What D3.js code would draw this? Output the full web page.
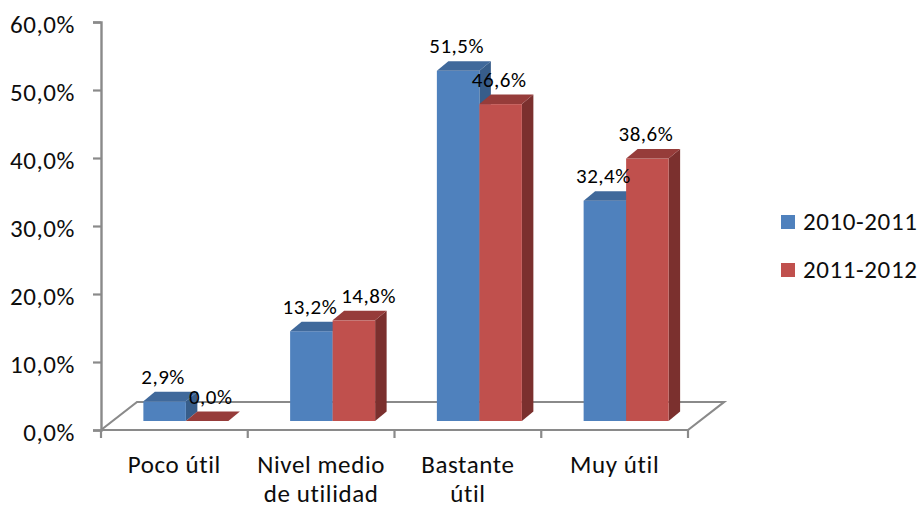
<!DOCTYPE html>
<html>
<head>
<meta charset="utf-8">
<script src="https://cdn.jsdelivr.net/npm/d3@7"></script>
<style>
  html, body { margin: 0; padding: 0; background: #fff; }
  svg { display: block; font-family: Carlito, Calibri, Lato, "Open Sans", sans-serif; }
</style>
</head>
<body>
<svg id="chart" width="922" height="507"></svg>
<script>
// Chart data
const categories = ["Poco útil", "Nivel medio\nde utilidad", "Bastante\nútil", "Muy útil"];
const seriesNames = ["2010-2011", "2011-2012"];
const values2010 = [2.9, 13.2, 51.5, 32.4];
const values2011 = [0.0, 14.8, 46.6, 38.6];
const yTicks = [0, 10, 20, 30, 40, 50, 60];

const seriesValues = [values2010, values2011];
const palette = [
  { front: "#4F81BD", top: "#40699B", side: "#375D8A" },
  { front: "#C0504D", top: "#963C3A", side: "#7B302E" }
];

const locale = d3.formatLocale({ decimal: ",", thousands: ".", grouping: [3], currency: ["", " €"] });
const fmt = v => locale.format(".1f")(v) + "%";

const svg = d3.select("#chart");
const textColor = "#0d0d0d";
const labelSize = 25;
const labelSpacing = 0.6;

// Front plane of the plot (where the axes live)
const x0 = d3.scaleBand().domain(categories).range([101, 688]).paddingInner(0).paddingOuter(0);
const x1 = d3.scaleBand().domain(seriesNames).range([0, x0.bandwidth()]).paddingInner(0).paddingOuter(0.7265);
const y = d3.scaleLinear().domain([0, 60]).range([430, 22]);

// 3D offsets: floor depth, bar row position and bar depth
const floorD = { x: 36, y: -28 };
const rowD = { x: 11.5, y: -9 };
const barD = { x: 11.5, y: -9.5 };

const axisColor = "#8A8A8A";

// Floor outline
const fx0 = x0.range()[0], fx1 = x0.range()[1], fy = y(0);
svg.append("path")
  .attr("d", `M${fx0},${fy} L${fx0 + floorD.x},${fy + floorD.y} L${fx1 + floorD.x},${fy + floorD.y} L${fx1},${fy}`)
  .attr("fill", "none").attr("stroke", axisColor).attr("stroke-width", 2.2);

// Value axis
const yAxis = svg.append("g").attr("transform", `translate(${fx0},0)`)
  .call(d3.axisLeft(y).tickValues(yTicks).tickSize(8).tickFormat(d => fmt(d)));
yAxis.attr("font-family", null).attr("font-size", null);
yAxis.select(".domain").attr("stroke", axisColor).attr("stroke-width", 2.4);
yAxis.selectAll(".tick line").attr("stroke", axisColor).attr("stroke-width", 2.2);
yAxis.selectAll(".tick text")
  .attr("x", -26).attr("dy", null).attr("y", 10)
  .attr("font-size", labelSize).attr("letter-spacing", labelSpacing).attr("fill", textColor);

// Category axis
const xAxis = svg.append("g").attr("transform", `translate(0,${fy})`);
xAxis.append("line").attr("x1", fx0).attr("x2", fx1).attr("y1", 0).attr("y2", 0)
  .attr("stroke", axisColor).attr("stroke-width", 2.2);
const boundaries = categories.map(c => x0(c)).concat([fx1]);
xAxis.selectAll("line.tick").data(boundaries).join("line")
  .attr("class", "tick")
  .attr("x1", d => d).attr("x2", d => d).attr("y1", 0).attr("y2", 8)
  .attr("stroke", axisColor).attr("stroke-width", 2.2);
categories.forEach(c => {
  const t = xAxis.append("text")
    .attr("text-anchor", "middle").attr("font-size", labelSize)
    .attr("letter-spacing", labelSpacing).attr("fill", textColor);
  c.split("\n").forEach((line, i) => {
    t.append("tspan").attr("x", x0(c) + x0.bandwidth() / 2).attr("y", 43 + i * 28.5).text(line);
  });
});

// 3D bars
const bars = [];
categories.forEach((c, ci) => {
  seriesNames.forEach((s, si) => {
    const v = seriesValues[si][ci];
    const left = x0(c) + x1(s) + rowD.x;
    const right = left + x1.bandwidth();
    const bottom = y(0) + rowD.y;
    const top = y(v) + rowD.y;
    bars.push({ v, ci, si, left, right, bottom, top, col: palette[si] });
  });
});

const barG = svg.append("g");
bars.forEach(b => {
  const g = barG.append("g");
  // side face
  g.append("path")
    .attr("d", `M${b.right},${b.bottom} L${b.right + barD.x},${b.bottom + barD.y} L${b.right + barD.x},${b.top + barD.y} L${b.right},${b.top} Z`)
    .attr("fill", b.col.side);
  // front face
  g.append("rect")
    .attr("x", b.left).attr("y", b.top).attr("width", b.right - b.left).attr("height", b.bottom - b.top)
    .attr("fill", b.col.front);
  // top face
  g.append("path")
    .attr("d", `M${b.left},${b.top} L${b.left + barD.x},${b.top + barD.y} L${b.right + barD.x},${b.top + barD.y} L${b.right},${b.top} Z`)
    .attr("fill", b.col.top);
});

// Value labels; a label that would collide with its neighbour in the group is nudged right
const valueLabels = svg.append("g").selectAll("text").data(bars).join("text")
  .attr("x", d => (d.left + d.right) / 2 - 1.5)
  .attr("y", d => d.top - 17.5)
  .attr("text-anchor", "middle")
  .attr("font-size", 21)
  .attr("letter-spacing", 0.5)
  .attr("fill", "#000")
  .text(d => fmt(d.v));

const boxes = valueLabels.nodes().map(n => n.getBBox());
valueLabels.each(function (d, i) {
  if (d.si === 0) return;
  const prev = boxes[i - 1], cur = boxes[i];
  const verticalOverlap = cur.y < prev.y + prev.height && prev.y < cur.y + cur.height;
  const gap = cur.x - (prev.x + prev.width);
  if (verticalOverlap && gap < 4) {
    d3.select(this).attr("x", +d3.select(this).attr("x") + (4 - gap));
  }
});

// Legend
const legend = svg.append("g").attr("transform", "translate(781,215)");
seriesNames.forEach((s, i) => {
  const row = legend.append("g").attr("transform", `translate(0,${i * 48})`);
  row.append("rect").attr("width", 14).attr("height", 14).attr("fill", palette[i].front);
  row.append("text").attr("x", 22).attr("y", 15).attr("font-size", labelSize)
    .attr("letter-spacing", labelSpacing).attr("fill", textColor).text(s);
});
</script>
</body>
</html>
